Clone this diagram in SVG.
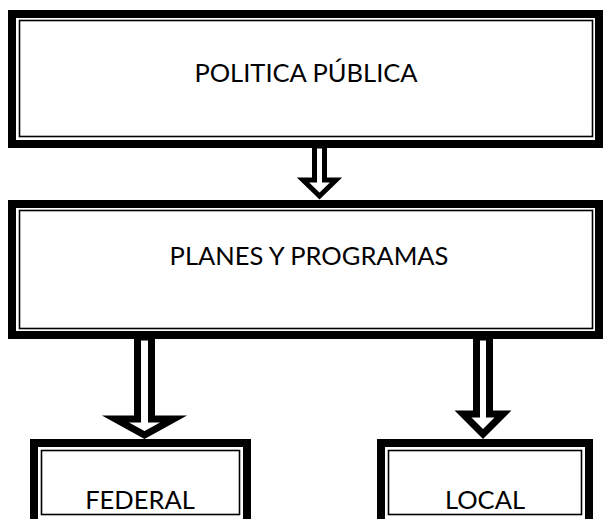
<svg xmlns="http://www.w3.org/2000/svg" width="605" height="519" viewBox="0 0 605 519">
<style>
.band{fill:none;stroke:#000;stroke-width:8}
.thin{fill:none;stroke:#000;stroke-width:1.6}
.arrow{fill:#fff;stroke:#000;stroke-linejoin:miter;stroke-miterlimit:10}
.a1{stroke-width:5}
.a2{stroke-width:7}
.lbl{font-family:Lato,"Open Sans","Liberation Sans",sans-serif;font-size:25.5px;fill:#000;text-anchor:middle}
</style>
<rect width="605" height="519" fill="#fff"/>
<g id="politica">
<rect class="band" x="12" y="14" width="587" height="130"/>
<rect class="thin" x="19.5" y="20.5" width="573" height="116"/>
<text class="lbl" x="306" y="82">POLITICA PÚBLICA</text>
</g>
<g id="planes">
<rect class="band" x="12" y="204" width="587" height="131"/>
<rect class="thin" x="19.5" y="210.5" width="573" height="118"/>
<text class="lbl" x="309" y="265">PLANES Y PROGRAMAS</text>
</g>
<g id="federal">
<rect class="band" x="34" y="443" width="213" height="100"/>
<rect class="thin" x="41.5" y="450.5" width="198" height="64"/>
<text class="lbl" x="140" y="509">FEDERAL</text>
</g>
<g id="local">
<rect class="band" x="381" y="443" width="208" height="100"/>
<rect class="thin" x="388.5" y="450.5" width="193" height="64"/>
<text class="lbl" x="485" y="509">LOCAL</text>
</g>
<g id="connectors">
<polygon class="arrow a1" points="314.5,146 324.5,146 324.5,180 336,180 319.5,196 303,180 314.5,180"/>
<polygon class="arrow a2" points="137.5,337 151.5,337 151.5,419 173.5,419 144.5,435 115.5,419 137.5,419"/>
<polygon class="arrow a2" points="476.5,337 489.5,337 489.5,414 503,414 483,434 463,414 476.5,414"/>
</g>
</svg>
